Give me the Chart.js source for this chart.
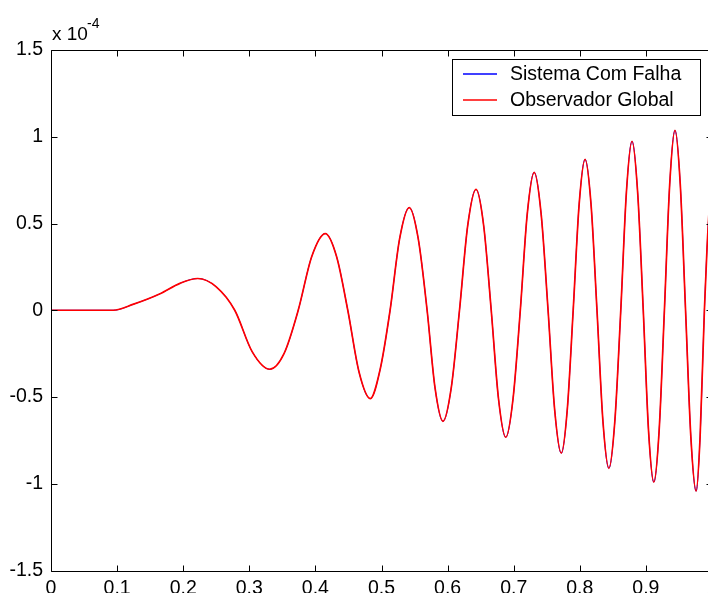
<!DOCTYPE html>
<html>
<head>
<meta charset="utf-8">
<script src="https://cdn.jsdelivr.net/npm/chart.js@4.4.0/dist/chart.umd.min.js"></script>
<style>
  html, body { margin: 0; padding: 0; background: #fff; overflow: hidden; }
</style>
</head>
<body>
<canvas id="myChart" width="730" height="593"></canvas>
<script>
// tempo e amplitude (em unidades de 10^-4)
const tempo = [
  0, 0.094, 0.125, 0.165, 0.195, 0.222, 0.250, 0.278, 0.3045, 0.331,
  0.3525, 0.374, 0.3945, 0.415, 0.432, 0.449, 0.466, 0.483, 0.498, 0.513,
  0.5275, 0.542, 0.5555, 0.569, 0.581, 0.593, 0.6055, 0.618, 0.6305, 0.643,
  0.6545, 0.666, 0.677, 0.688, 0.699, 0.710, 0.7205, 0.731, 0.7415, 0.752,
  0.762, 0.772, 0.781, 0.790, 0.799, 0.808, 0.817, 0.826, 0.835, 0.844,
  0.853, 0.862, 0.8705, 0.879, 0.8875, 0.896, 0.904, 0.912, 0.920, 0.928,
  0.936, 0.944, 0.952, 0.960, 0.968, 0.976, 0.982, 0.9885, 0.9925, 1.0
];
const sistemaComFalha = [
  0, 0, 0.035, 0.095, 0.155, 0.183, 0.135, 0, -0.24, -0.340,
  -0.25, 0, 0.31, 0.442, 0.31, 0, -0.356, -0.509, -0.34, 0,
  0.414, 0.592, 0.414, 0, -0.448, -0.640, -0.448, 0, 0.49, 0.697,
  0.49, 0, -0.51, -0.732, -0.51, 0, 0.555, 0.795, 0.555, 0,
  -0.575, -0.824, -0.575, 0, 0.61, 0.870, 0.61, 0, -0.64, -0.911,
  -0.64, 0, 0.68, 0.974, 0.68, 0, -0.695, -0.991, -0.695, 0,
  0.725, 1.037, 0.725, 0, -0.73, -1.043, -0.73, 0, 0.36, 0.85
];
// o observador segue o sistema exatamente (a curva azul fica por baixo)
const observadorGlobal = sistemaComFalha.slice();

const xTicks = [0, 0.1, 0.2, 0.3, 0.4, 0.5, 0.6, 0.7, 0.8, 0.9, 1];
const yTicks = [-1.5, -1, -0.5, 0, 0.5, 1, 1.5];
const nomes = ['Sistema Com Falha', 'Observador Global'];
const cores = ['#0000ff', '#ff0000'];

const FONT = '"Liberation Sans", Arial, sans-serif';

const pts = (ys) => tempo.map((t, i) => ({ x: t, y: ys[i] }));

// caixa dos eixos estilo matlab, ticks para dentro, legenda e expoente
const matlabAxes = {
  id: 'matlabAxes',
  afterDatasetsDraw(chart) {
    const { ctx, chartArea: a, scales } = chart;
    const L = Math.round(a.left) + 0.5, R = Math.round(a.right) + 0.5;
    const T = Math.round(a.top) + 0.5, B = Math.round(a.bottom) + 0.5;
    ctx.save();
    ctx.strokeStyle = '#000';
    ctx.lineWidth = 1;
    ctx.beginPath();
    ctx.rect(L, T, R - L, B - T);
    xTicks.forEach(v => {
      const px = Math.round(scales.x.getPixelForValue(v)) + 0.5;
      ctx.moveTo(px, B); ctx.lineTo(px, B - 6);
      ctx.moveTo(px, T); ctx.lineTo(px, T + 6);
    });
    yTicks.forEach(v => {
      const py = Math.round(scales.y.getPixelForValue(v)) + 0.5;
      ctx.moveTo(L, py); ctx.lineTo(L + 6, py);
      ctx.moveTo(R, py); ctx.lineTo(R - 6, py);
    });
    ctx.stroke();

    // x 10^-4
    ctx.fillStyle = '#000';
    ctx.textBaseline = 'alphabetic';
    ctx.font = '19px ' + FONT;
    ctx.fillText('x 10', 52, 40);
    ctx.font = '14px ' + FONT;
    ctx.fillText('-4', 87, 28);

    // legenda
    const bx = 452.5, by = 59.5, bw = 248, bh = 56;
    ctx.fillStyle = '#fff';
    ctx.fillRect(bx, by, bw, bh);
    ctx.strokeRect(bx, by, bw, bh);
    ctx.font = '19.5px ' + FONT;
    ctx.textBaseline = 'middle';
    nomes.forEach((n, i) => {
      const y = 74 + i * 26;
      ctx.strokeStyle = cores[i];
      ctx.lineWidth = 1.5;
      ctx.beginPath();
      ctx.moveTo(463, y); ctx.lineTo(497, y);
      ctx.stroke();
      ctx.fillStyle = '#000';
      ctx.fillText(n, 510, y + 1);
    });
    ctx.restore();
  }
};

new Chart(document.getElementById('myChart'), {
  type: 'line',
  data: {
    datasets: [{
      label: nomes[0],
      data: pts(sistemaComFalha),
      borderColor: cores[0],
      borderWidth: 1,
      order: 1
    }, {
      label: nomes[1],
      data: pts(observadorGlobal),
      borderColor: cores[1],
      borderWidth: 1.7,
      order: 0
    }]
  },
  options: {
    responsive: false,
    animation: false,
    cubicInterpolationMode: 'monotone',
    elements: { point: { radius: 0 } },
    layout: { padding: { top: 50, right: 18, left: 0, bottom: 0 } },
    plugins: { legend: { display: false }, tooltip: { enabled: false } },
    scales: {
      x: {
        type: 'linear',
        min: 0, max: 1,
        afterBuildTicks: s => { s.ticks = xTicks.map(v => ({ value: v })); },
        afterFit: s => { s.height = 22.5; },
        grid: { display: false, drawTicks: false },
        border: { display: false },
        ticks: {
          callback: v => String(v),
          autoSkip: false, maxRotation: 0,
          padding: 6, color: '#000',
          font: { family: FONT, size: 19.5 }
        }
      },
      y: {
        type: 'linear',
        min: -1.5, max: 1.5,
        afterBuildTicks: s => { s.ticks = yTicks.map(v => ({ value: v })); },
        afterFit: s => { s.width = 51; },
        grid: { display: false, drawTicks: false },
        border: { display: false },
        ticks: {
          callback: v => String(v),
          padding: 8, color: '#000',
          font: { family: FONT, size: 19.5 }
        }
      }
    }
  },
  plugins: [matlabAxes]
});
</script>
</body>
</html>
